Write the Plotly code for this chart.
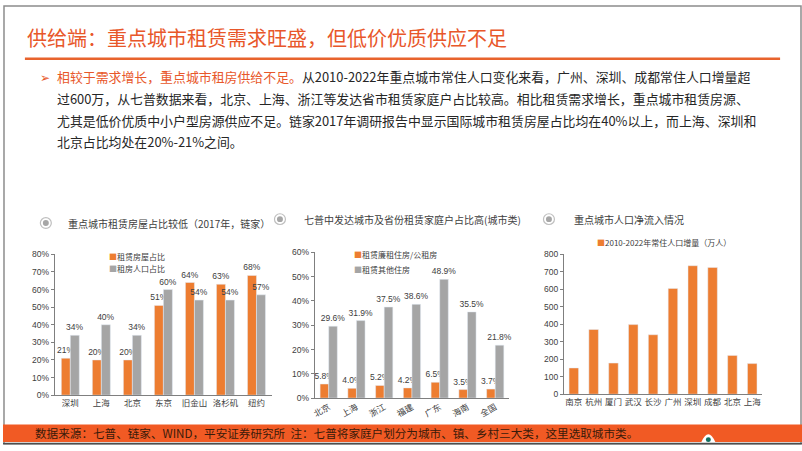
import plotly.graph_objects as go

W, H = 802, 451

# chart 1: rental housing share (2017, Lianjia)
c1_cities = ['深圳', '上海', '北京', '东京', '旧金山', '洛杉矶', '纽约']
c1_house = [0.21, 0.20, 0.20, 0.51, 0.64, 0.63, 0.68]
c1_people = [0.34, 0.40, 0.34, 0.60, 0.54, 0.54, 0.57]

# chart 2: 7th census rental households (city)
c2_regions = ['北京', '上海', '浙江', '福建', '广东', '海南', '全国']
c2_public = [0.058, 0.040, 0.052, 0.042, 0.065, 0.035, 0.037]
c2_other = [0.296, 0.319, 0.375, 0.386, 0.489, 0.355, 0.218]

# chart 3: resident population increase 2010-2022 (10k people)
c3_cities = ['南京', '杭州', '厦门', '武汉', '长沙', '广州', '深圳', '成都', '北京', '上海']
c3_increase = [150, 370, 178, 398, 340, 605, 735, 725, 222, 175]

ORANGE = '#ED7D31'
GRAY = '#A5A5A5'
RED = '#E8572A'
CJK = 'Noto Sans CJK SC'
SANS = 'Liberation Sans, Noto Sans CJK SC'


def px(x):
    return x / W


def py(y):
    return 1 - y / H


fig = go.Figure()

lbl = dict(family=SANS, size=8.5, color='#404040')

fig.add_trace(go.Bar(x=c1_cities, y=c1_house, xaxis='x', yaxis='y', marker_color=ORANGE,
                     width=0.29, offset=-0.29, texttemplate='%{y:.0%}',
                     textposition='outside', constraintext='none', cliponaxis=False,
                     textfont=lbl, showlegend=False))
fig.add_trace(go.Bar(x=c1_cities, y=c1_people, xaxis='x', yaxis='y', marker_color=GRAY,
                     width=0.29, offset=0, texttemplate='%{y:.0%}',
                     textposition='outside', constraintext='none', cliponaxis=False,
                     textfont=lbl, showlegend=False))

fig.add_trace(go.Bar(x=c2_regions, y=c2_public, xaxis='x2', yaxis='y2', marker_color=ORANGE,
                     width=0.31, offset=-0.31, texttemplate='%{y:.1%}',
                     textposition='outside', constraintext='none', cliponaxis=False,
                     textfont=lbl, showlegend=False))
fig.add_trace(go.Bar(x=c2_regions, y=c2_other, xaxis='x2', yaxis='y2', marker_color=GRAY,
                     width=0.31, offset=0, texttemplate='%{y:.1%}',
                     textposition='outside', constraintext='none', cliponaxis=False,
                     textfont=lbl, showlegend=False))

fig.add_trace(go.Bar(x=c3_cities, y=c3_increase, xaxis='x3', yaxis='y3', marker_color=ORANGE,
                     width=0.48, showlegend=False))

axis_font = dict(family=SANS, size=8.5, color='#404040')
yax = dict(showgrid=False, zeroline=False, showline=True, linecolor='#7F7F7F', linewidth=1,
           ticks='outside', ticklen=3, tickcolor='#7F7F7F', tickfont=axis_font)
xax = dict(showgrid=False, zeroline=False, showline=True, linecolor='#7F7F7F', linewidth=1,
           ticks='', tickfont=axis_font)

fig.update_layout(
    width=W, height=H, margin=dict(l=0, r=0, t=0, b=0),
    paper_bgcolor='white', plot_bgcolor='white', barmode='overlay',
    xaxis=dict(xax, domain=[px(52), px(270)], anchor='y'),
    yaxis=dict(yax, domain=[py(399), py(255)], range=[0, 0.8], dtick=0.1, tickformat='.0%', anchor='x'),
    xaxis2=dict(xax, domain=[px(313), px(508)], anchor='y2', tickangle=-30),
    yaxis2=dict(yax, domain=[py(402), py(253)], range=[0, 0.6], dtick=0.1, tickformat='.0%', anchor='x2'),
    xaxis3=dict(xax, domain=[px(563), px(762)], anchor='y3'),
    yaxis3=dict(yax, domain=[py(398), py(255)], range=[0, 800], dtick=100, anchor='x3'),
)

shapes = []
ann = []

# frame, title rule, footer
shapes.append(dict(type='rect', xref='paper', yref='paper', x0=px(1), x1=px(801), y0=py(449), y1=py(1),
                   line=dict(color='#8C8C8C', width=1.5)))
shapes.append(dict(type='line', xref='paper', yref='paper', x0=px(22), x1=px(780), y0=py(55), y1=py(55),
                   line=dict(color='#E8632D', width=2.5)))
shapes.append(dict(type='rect', xref='paper', yref='paper', x0=0, x1=1, y0=py(447), y1=py(429),
                   fillcolor='#F15A24', line_width=0, layer='above'))
shapes.append(dict(type='line', xref='paper', yref='paper', x0=0, x1=1, y0=py(448.5), y1=py(448.5),
                   line=dict(color='#4D4D4D', width=1.5)))
# small logo on the footer
shapes.append(dict(type='path', xref='paper', yref='paper',
                   path=f'M {px(701)},{py(447)} Q {px(708)},{py(431)} {px(715)},{py(447)} Z',
                   fillcolor='white', line_width=0))
shapes.append(dict(type='circle', xref='paper', yref='paper', x0=px(705.5), x1=px(710.5),
                   y0=py(447), y1=py(442), fillcolor='#0F6E5F', line_width=0))

# chart title bullets
for cx, cy in [(43, 223), (278, 219), (548, 219)]:
    shapes.append(dict(type='circle', xref='paper', yref='paper', x0=px(cx - 5.5), x1=px(cx + 5.5),
                       y0=py(cy + 5.5), y1=py(cy - 5.5), line=dict(color='#BFBFBF', width=1.2),
                       fillcolor='white'))
    shapes.append(dict(type='circle', xref='paper', yref='paper', x0=px(cx - 3), x1=px(cx + 3),
                       y0=py(cy + 3), y1=py(cy - 3), line_width=0, fillcolor='#A6A6A6'))


def text(x, y, s, size, color='#262626', anchor='left', family=CJK):
    ann.append(dict(x=px(x), y=py(y), xref='paper', yref='paper', xanchor=anchor, yanchor='middle',
                    text=s, showarrow=False, font=dict(family=family, size=size, color=color)))


text(22, 33, '供给端：重点城市租赁需求旺盛，但低价优质供应不足', 20, RED)

text(35, 73, '➢', 12, RED)
body_size = 12.9
text(52, 73, f'<span style="color:{RED}">相较于需求增长，重点城市租房供给不足。</span>'
             '从2010-2022年重点城市常住人口变化来看，广州、深圳、成都常住人口增量超', body_size)
text(52, 96, '过600万，从七普数据来看，北京、上海、浙江等发达省市租赁家庭户占比较高。相比租赁需求增长，重点城市租赁房源、', body_size)
text(52, 118, '尤其是低价优质中小户型房源供应不足。链家2017年调研报告中显示国际城市租赁房屋占比均在40%以上，而上海、深圳和', body_size)
text(52, 140, '北京占比均处在20%-21%之间。', body_size)

text(63, 223, '重点城市租赁房屋占比较低（2017年，链家）', 10, '#404040')
text(300, 219, '七普中发达城市及省份租赁家庭户占比高(城市类)', 10, '#404040')
text(571, 219, '重点城市人口净流入情况', 10, '#404040')

# legends
text(104, 257, f'<span style="color:{ORANGE}">■</span>租赁房屋占比', 8, '#404040')
text(104, 269, f'<span style="color:{GRAY}">■</span>租房人口占比', 8, '#404040')
text(350, 255, f'<span style="color:{ORANGE}">■</span>租赁廉租住房/公租房', 8, '#404040')
text(350, 271, f'<span style="color:{GRAY}">■</span>租赁其他住房', 8, '#404040')
text(594, 243, f'<span style="color:{ORANGE}">■</span>2010-2022年常住人口增量（万人）', 8, '#404040')

text(30, 438, '数据来源：七普、链家、WIND，平安证券研究所  注：七普将家庭户划分为城市、镇、乡村三大类，这里选取城市类。',
     11.6, '#3A1A0A')

fig.update_layout(shapes=shapes, annotations=ann)

fig.write_html('out.html', config={'displayModeBar': False},
               post_script="document.body.style.margin='0';document.body.style.overflow='hidden';")
